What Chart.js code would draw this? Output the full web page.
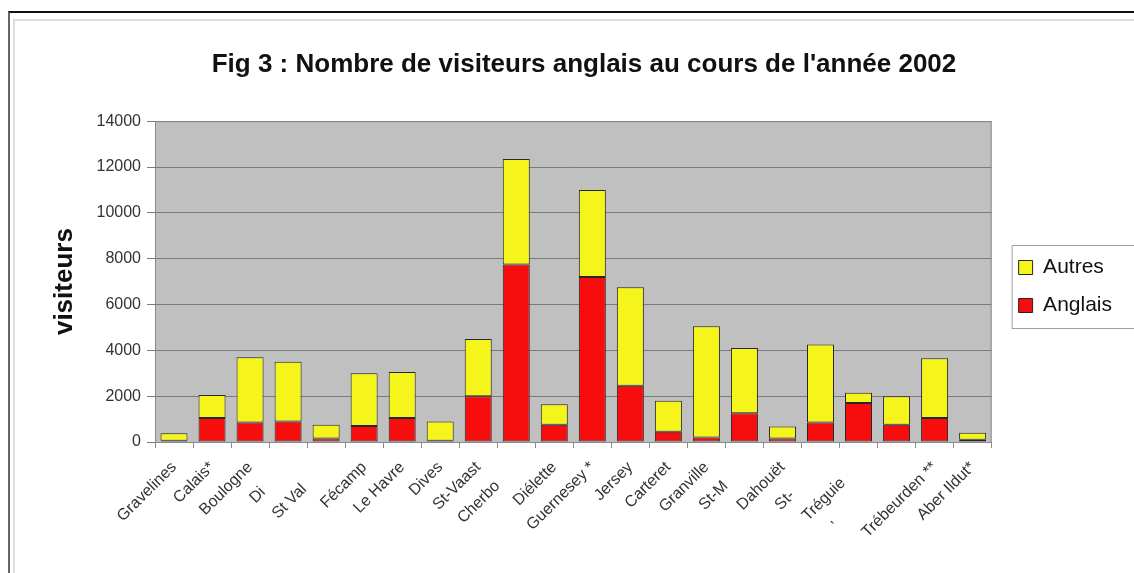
<!DOCTYPE html>
<html>
<head>
<meta charset="utf-8">
<script src="https://cdn.jsdelivr.net/npm/chart.js@4/dist/chart.umd.min.js"></script>
<style>
  html, body { margin: 0; padding: 0; background: #fff; }
  #wrap { position: relative; width: 1134px; height: 573px; overflow: hidden; }
  #frame { position: absolute; left: 8px; top: 11px; right: -4px; bottom: -4px;
           border-top: 2px solid #111; border-left: 2px solid #666; }
  #inner { position: absolute; left: 13px; top: 19px; right: -4px; bottom: -4px;
           border-top: 2px solid #ddd; border-left: 2px solid #ddd; }
  canvas { position: absolute; left: 0; top: 0; }
</style>
</head>
<body>
<div id="wrap">
  <div id="frame"></div>
  <div id="inner"></div>
  <canvas id="visitors-chart" width="1134" height="573"></canvas>
</div>
<script>
// ports (quelques libellés sont coupés dans l'original)
const NBSP = '\u00a0';
const ports = [
  'Gravelines', 'Calais*', 'Boulogne', 'Di' + NBSP.repeat(8), 'St Val' + NBSP.repeat(7),
  'Fécamp', 'Le Havre', 'Dives', 'St-Vaast', 'Cherbo' + NBSP.repeat(6),
  'Diélette', 'Guernesey *', 'Jersey', 'Carteret', 'Granville',
  'St-M' + NBSP.repeat(6), 'Dahouët', 'St-' + NBSP.repeat(9), 'Tréguie' + NBSP.repeat(5),
  '\u2019' + NBSP.repeat(19), 'Trébeurden **', 'Aber Ildut*'
];

// visiteurs anglais
const anglais = [
  50, 1050, 850, 900, 150, 700, 1050, 50, 2000, 7750,
  750, 7200, 2450, 450, 200, 1250, 150, 850, 1700, 750, 1050, 100
];

// autres visiteurs
const autres = [
  330, 1000, 2850, 2600, 600, 2300, 2000, 850, 2500, 4600,
  900, 3800, 4300, 1350, 4850, 2850, 530, 3400, 450, 1250, 2600, 300
];

const yTicks = [0, 2000, 4000, 6000, 8000, 10000, 12000, 14000];

const FONT = 'Arial, "Liberation Sans", Helvetica, sans-serif';

// fond gris + cadre de la zone de tracé
const plotBackground = {
  id: 'plotBackground',
  beforeDraw(chart) {
    const { ctx, chartArea: a } = chart;
    ctx.save();
    ctx.fillStyle = '#c0c0c0';
    ctx.fillRect(a.left, a.top, a.right - a.left, a.bottom - a.top);
    ctx.restore();
  },
  afterDatasetsDraw(chart) {
    const { ctx, chartArea: a } = chart;
    ctx.save();
    ctx.strokeStyle = '#8a8a8a';
    ctx.lineWidth = 1;
    ctx.strokeRect(a.left + 0.5, a.top + 0.5, a.right - a.left - 1, a.bottom - a.top);
    ctx.restore();
  },
};

// cadre autour de la légende
const legendFrame = {
  id: 'legendFrame',
  afterDraw(chart) {
    const boxes = chart.legend && chart.legend.legendHitBoxes;
    if (!boxes || !boxes.length) return;
    const first = boxes[0];
    const last = boxes[boxes.length - 1];
    const left = first.left - 7;
    const top = first.top - 12;
    const bottom = last.top + last.height + 12;
    const { ctx } = chart;
    ctx.save();
    ctx.strokeStyle = '#a0a0a0';
    ctx.lineWidth = 1;
    ctx.strokeRect(left + 0.5, top + 0.5, chart.width - left + 10, bottom - top);
    ctx.restore();
  },
};

new Chart(document.getElementById('visitors-chart'), {
  type: 'bar',
  data: {
    labels: ports,
    datasets: [
      {
        label: 'Anglais',
        data: anglais,
        backgroundColor: '#f70d0d',
        borderColor: '#262626',
        borderWidth: 1,
        borderSkipped: false,
      },
      {
        label: 'Autres',
        data: autres,
        backgroundColor: '#f5f51c',
        borderColor: '#262626',
        borderWidth: 1,
        borderSkipped: false,
      },
    ],
  },
  options: {
    responsive: false,
    animation: false,
    layout: { padding: { left: 46, right: 12, top: 0, bottom: 0 } },
    datasets: {
      bar: { categoryPercentage: 1, barPercentage: 0.71 },
    },
    plugins: {
      title: {
        display: true,
        text: "Fig 3 : Nombre de visiteurs anglais au cours de l'année 2002",
        color: '#111',
        font: { family: FONT, size: 26, weight: 'bold' },
        padding: { top: 49, bottom: 41 },
      },
      legend: {
        display: true,
        position: 'right',
        reverse: true,
        labels: {
          color: '#111',
          font: { family: FONT, size: 21 },
          boxWidth: 14,
          boxHeight: 14,
          padding: 17,
        },
      },
      tooltip: { enabled: false },
    },
    scales: {
      x: {
        stacked: true,
        grid: { drawOnChartArea: false, color: '#8a8a8a', tickLength: 6, offset: true },
        border: { color: '#8a8a8a' },
        ticks: {
          color: '#333',
          font: { family: FONT, size: 16 },
          minRotation: 45,
          maxRotation: 45,
          autoSkip: false,
          padding: 10,
        },
        afterFit: (scale) => { scale.height = 131; },
      },
      y: {
        stacked: true,
        min: 0,
        max: 14000,
        afterBuildTicks: (scale) => { scale.ticks = yTicks.map((v) => ({ value: v })); },
        grid: { color: '#7a7a7a', tickLength: 8 },
        border: { color: '#8a8a8a' },
        ticks: {
          color: '#333',
          font: { family: FONT, size: 16 },
          padding: 6,
          callback: (v) => String(v),
        },
        title: {
          display: true,
          text: 'visiteurs',
          color: '#111',
          font: { family: FONT, size: 26, weight: 'bold' },
          padding: { top: 3, bottom: 0 },
        },
        afterFit: (scale) => { scale.width = 109; },
      },
      // espace vide entre la zone de tracé et la légende
      gap: {
        type: 'linear',
        position: 'right',
        display: true,
        grid: { display: false },
        border: { display: false },
        ticks: { display: false },
        afterFit: (scale) => { scale.width = 10; },
      },
    },
  },
  plugins: [plotBackground, legendFrame],
});
</script>
</body>
</html>
